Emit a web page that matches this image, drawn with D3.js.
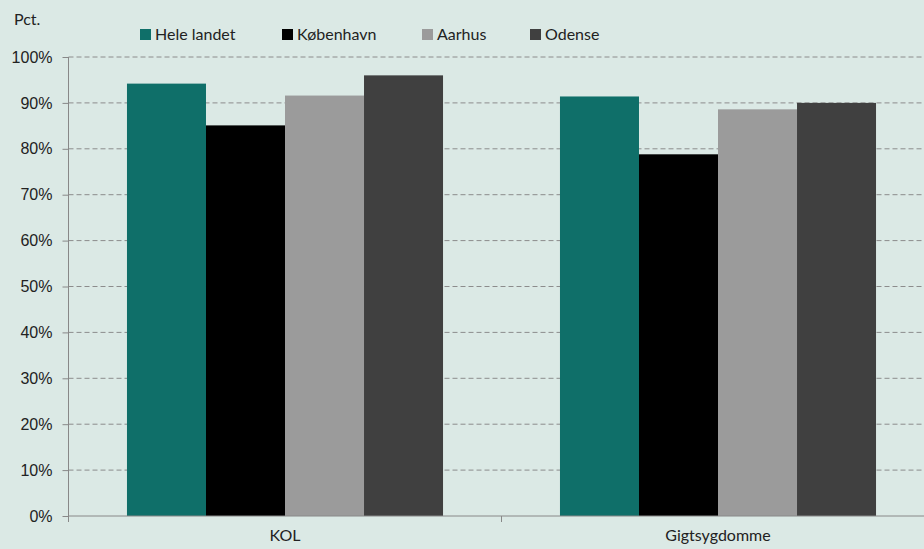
<!DOCTYPE html>
<html>
<head>
<meta charset="utf-8">
<script src="https://cdn.jsdelivr.net/npm/d3@7"></script>
<style>
  html, body { margin: 0; padding: 0; background: #dbe9e5; }
  svg { display: block; font-family: Lato, "Open Sans", "Liberation Sans", sans-serif; }
</style>
</head>
<body>
<svg id="chart" width="924" height="549"></svg>
<script>
// Share of patients (pct.) by diagnosis and area
const categories = ["KOL", "Gigtsygdomme"];
const seriesNames = ["Hele landet", "København", "Aarhus", "Odense"];
const seriesColors = ["#0f6f69", "#000000", "#9b9b9b", "#404040"];
const heleLandet = [94.2, 91.4];
const koebenhavn = [85.1, 78.8];
const aarhus = [91.6, 88.6];
const odense = [96.0, 90.0];
const yTicks = [0, 10, 20, 30, 40, 50, 60, 70, 80, 90, 100];

const seriesValues = [heleLandet, koebenhavn, aarhus, odense];

const svg = d3.select("#chart");
const margin = { top: 57, right: -10.5, bottom: 33, left: 68.5 };
const W = 924, H = 549;
const innerW = W - margin.left - margin.right;
const innerH = H - margin.top - margin.bottom;
const fontSize = 16;

const g = svg.append("g").attr("transform", `translate(${margin.left},${margin.top})`);

const x0 = d3.scaleBand().domain(categories).range([0, innerW]);
const x1 = d3.scaleBand().domain(seriesNames).range([0, x0.bandwidth()]).paddingOuter(0.74).paddingInner(0);
const y = d3.scaleLinear().domain([0, 100]).range([innerH, 0]);

// dashed horizontal gridlines
g.append("g").selectAll("line").data(yTicks.filter(d => d > 0)).join("line")
  .attr("x1", 0).attr("x2", innerW)
  .attr("y1", d => y(d)).attr("y2", d => y(d))
  .attr("stroke", "#8c8c8c").attr("stroke-width", 1)
  .attr("stroke-dasharray", "5,3");

// bars
const groups = g.append("g").selectAll("g").data(categories).join("g")
  .attr("transform", d => `translate(${x0(d)},0)`);
groups.selectAll("rect")
  .data((c, ci) => seriesNames.map((s, si) => ({ s, si, v: seriesValues[si][ci] })))
  .join("rect")
  .attr("x", d => x1(d.s))
  .attr("width", x1.bandwidth())
  .attr("y", d => y(d.v))
  .attr("height", d => innerH - y(d.v))
  .attr("fill", d => seriesColors[d.si]);

// y axis
const yAxis = g.append("g").call(
  d3.axisLeft(y).tickValues(yTicks).tickFormat(d => d + "%").tickSize(6).tickPadding(10)
);
yAxis.select(".domain").attr("stroke", "#888").attr("d", `M0,0V${innerH + 5}`);
yAxis.selectAll(".tick line").attr("stroke", "#888");
yAxis.selectAll(".tick text").attr("font-size", fontSize).attr("fill", "#222");

// x axis
const xAxis = g.append("g").attr("transform", `translate(0,${innerH})`);
xAxis.append("line").attr("x1", 0).attr("x2", innerW).attr("stroke", "#888");
xAxis.selectAll("line.div").data([0, x0.bandwidth()]).join("line")
  .attr("class", "div")
  .attr("x1", d => d).attr("x2", d => d).attr("y1", 0).attr("y2", 6)
  .attr("stroke", "#888");
xAxis.selectAll("text").data(categories).join("text")
  .attr("x", d => x0(d) + x0.bandwidth() / 2)
  .attr("y", 25)
  .attr("text-anchor", "middle")
  .attr("font-size", fontSize).attr("fill", "#222")
  .text(d => d);

// unit label
svg.append("text").attr("x", 14).attr("y", 25).attr("font-size", fontSize).attr("fill", "#222").text("Pct.");

// legend
const legendX = [140, 282, 422, 530];
const legend = svg.append("g").selectAll("g").data(seriesNames).join("g")
  .attr("transform", (d, i) => `translate(${legendX[i]},29)`);
legend.append("rect").attr("width", 11).attr("height", 11)
  .attr("fill", (d, i) => seriesColors[i]);
legend.append("text").attr("x", 15).attr("y", 11)
  .attr("font-size", fontSize).attr("fill", "#222").text(d => d);
</script>
</body>
</html>
